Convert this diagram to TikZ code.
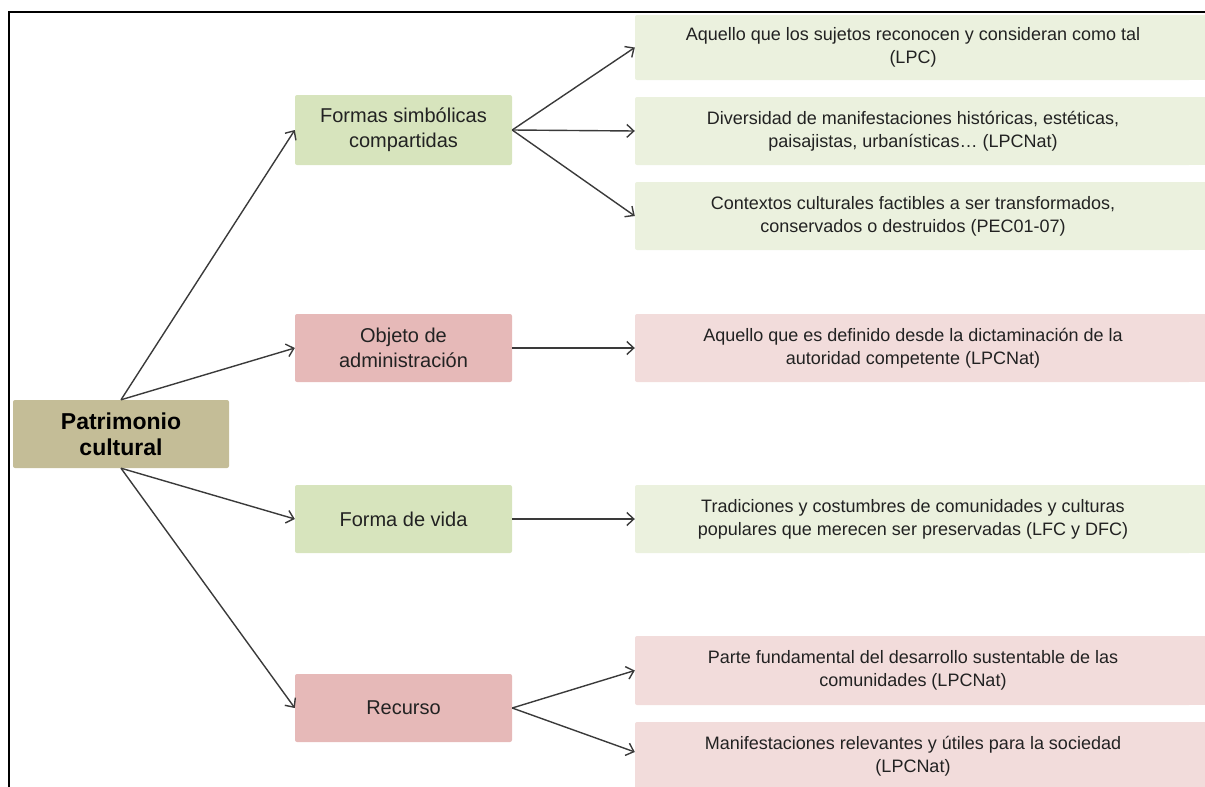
\documentclass[tikz,border=0pt]{standalone}
\usepackage{fontspec}
\setmainfont{Liberation Sans}
\usetikzlibrary{arrows.meta}
\definecolor{rootc}{HTML}{C4BD97}
\definecolor{midg}{HTML}{D7E4BD}
\definecolor{midp}{HTML}{E6B9B8}
\definecolor{lg}{HTML}{EBF1DE}
\definecolor{lp}{HTML}{F2DCDB}
\definecolor{txt}{HTML}{222222}
\definecolor{arr}{HTML}{3A3A3A}
\begin{document}
\begin{tikzpicture}[x=1pt,y=-1pt,
  box/.style={rectangle, rounded corners=2pt, inner sep=0pt, align=center, text=txt},
  rootbox/.style={box, fill=rootc, minimum width=216pt, minimum height=68pt, font=\fontsize{23}{26}\selectfont\bfseries, text=black},
  midbox/.style={box, minimum width=217pt, minimum height=68pt, font=\fontsize{20}{25}\selectfont},
  rbox/.style={box, minimum width=556pt, minimum height=68pt, font=\fontsize{18}{23}\selectfont},
  conn/.style={draw=arr, line width=1.4pt, -{Straight Barb[length=7pt,width=13pt]}},
  frameline/.style={draw=black, line width=2pt}
]
\useasboundingbox (0,0) rectangle (1205,787);
\coordinate (xr) at (1206,0);

% root and middle level
\node[rootbox] (root) at (121,434) {Patrimonio\\cultural};
\node[midbox, fill=midg, minimum height=70pt] (m1) at (403.5,130) {Formas simbólicas\\compartidas};
\node[midbox, fill=midp] (m2) at (403.5,348) {Objeto de\\administración};
\node[midbox, fill=midg] (m3) at (403.5,519) {Forma de vida};
\node[midbox, fill=midp] (m4) at (403.5,708) {Recurso};

% right level
\node[rbox, fill=lg, minimum height=65pt] (r1) at (913,47.5) {Aquello que los sujetos reconocen y consideran como tal\\(LPC)};
\node[rbox, fill=lg] (r2) at (913,131) {Diversidad de manifestaciones históricas, estéticas,\\paisajistas, urbanísticas\ldots{} (LPCNat)};
\node[rbox, fill=lg] (r3) at (913,216) {Contextos culturales factibles a ser transformados,\\conservados o destruidos (PEC01-07)};
\node[rbox, fill=lp] (r4) at (913,348) {Aquello que es definido desde la dictaminación de la\\autoridad competente (LPCNat)};
\node[rbox, fill=lg] (r5) at (913,519) {Tradiciones y costumbres de comunidades y culturas\\populares que merecen ser preservadas (LFC y DFC)};
\node[rbox, fill=lp, minimum height=69pt] (r6) at (913,670.5) {Parte fundamental del desarrollo sustentable de las\\comunidades (LPCNat)};
\node[rbox, fill=lp] (r7) at (913,756) {Manifestaciones relevantes y útiles para la sociedad\\(LPCNat)};

% right boxes run on to the page edge
\fill[lg] ([xshift=-3pt]r1.north east) rectangle (r1.south east -| xr);
\fill[lg] ([xshift=-3pt]r2.north east) rectangle (r2.south east -| xr);
\fill[lg] ([xshift=-3pt]r3.north east) rectangle (r3.south east -| xr);
\fill[lp] ([xshift=-3pt]r4.north east) rectangle (r4.south east -| xr);
\fill[lg] ([xshift=-3pt]r5.north east) rectangle (r5.south east -| xr);
\fill[lp] ([xshift=-3pt]r6.north east) rectangle (r6.south east -| xr);
\fill[lp] ([xshift=-3pt]r7.north east) rectangle (r7.south east -| xr);

% connectors
\draw[conn] (root.north) -- (m1.west);
\draw[conn] (root.north) -- (m2.west);
\draw[conn] (root.south) -- (m3.west);
\draw[conn] (root.south) -- (m4.west);
\draw[conn] (m1.east) -- (r1.west);
\draw[conn] (m1.east) -- (r2.west);
\draw[conn] (m1.east) -- (r3.west);
\draw[conn] (m2.east) -- (r4.west);
\draw[conn] (m3.east) -- (r5.west);
\draw[conn] (m4.east) -- (r6.west);
\draw[conn] (m4.east) -- ([yshift=4pt]r7.west);

% frame
\coordinate (ftl) at (9,12);
\coordinate (ftr) at (1205,12);
\coordinate (fbl) at (9,787);
\draw[frameline] (fbl) -- (ftl) -- (ftr);
\end{tikzpicture}
\end{document}
